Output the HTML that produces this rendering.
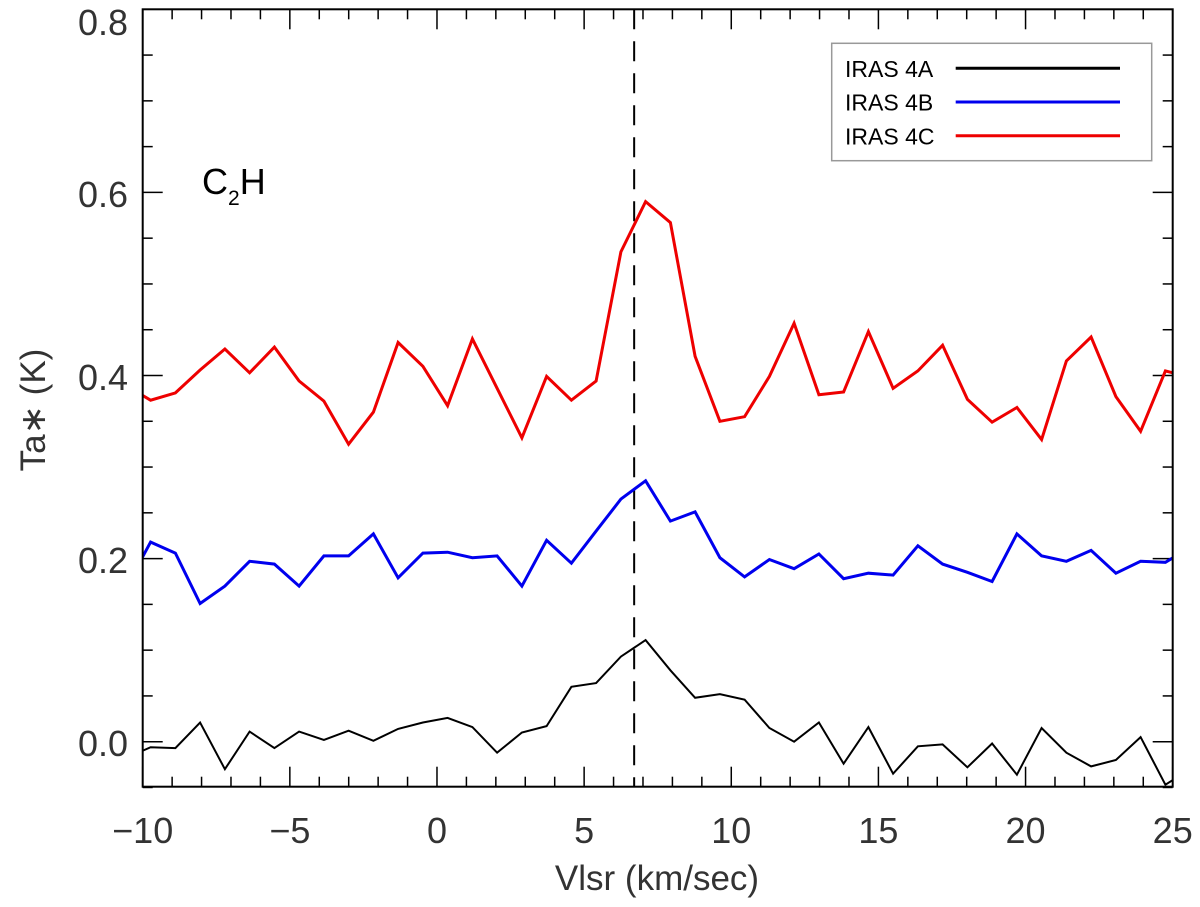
<!DOCTYPE html>
<html><head><meta charset="utf-8"><style>
html,body{margin:0;padding:0;background:#fff;}
svg{display:block;font-family:"Liberation Sans",sans-serif;}
</style></head><body>
<svg id="chart" width="1200" height="907" viewBox="0 0 1200 907" xmlns="http://www.w3.org/2000/svg">
<defs><clipPath id="plotclip"><rect x="142.7" y="9.3" width="1030" height="777.4"/></clipPath></defs>
<g id="ticks"></g>
<g id="series" clip-path="url(#plotclip)"></g>
<rect x="142.7" y="9.3" width="1030" height="777.4" fill="none" stroke="#000" stroke-width="2"/>
<text x="202" y="194" font-size="36" fill="#000">C<tspan font-size="21" dy="11">2</tspan><tspan dy="-11">H</tspan></text>
<text x="657" y="890" font-size="35" fill="#333" text-anchor="middle">Vlsr (km/sec)</text>
<text transform="translate(45,410) rotate(-90)" font-size="35" fill="#333" text-anchor="middle">Ta∗ (K)</text>
<g>
<rect x="831.7" y="43.3" width="320" height="117.4" fill="#fff" stroke="#999" stroke-width="1.5"/>
<g><text x="845" y="77" font-size="23" fill="#000">IRAS 4A</text><line x1="955.7" y1="68.3" x2="1120" y2="68.3" stroke="#000" stroke-width="3"/></g>
<g><text x="845" y="110.5" font-size="23" fill="#000">IRAS 4B</text><line x1="955.7" y1="102" x2="1120" y2="102" stroke="#0000ee" stroke-width="3"/></g>
<g><text x="845" y="144.5" font-size="23" fill="#000">IRAS 4C</text><line x1="955.7" y1="135.7" x2="1120" y2="135.7" stroke="#ee0000" stroke-width="3"/></g>
</g>
</svg>
<script>
const x0 = -10.571;
const dx = 0.841;
const xTickLabels = ["−10","−5","0","5","10","15","20","25"];
const xTickValues = [-10,-5,0,5,10,15,20,25];
const yTickLabels = ["0.0","0.2","0.4","0.6","0.8"];
const yTickValues = [0,0.2,0.4,0.6,0.8];
const markerVelocity = 6.7;
const iras4a = [-0.018,-0.006,-0.007,0.021,-0.030,0.011,-0.007,0.011,0.002,0.012,0.001,0.014,0.021,0.026,0.016,-0.012,0.010,0.017,0.060,0.064,0.093,0.111,0.078,0.048,0.052,0.046,0.015,0.000,0.021,-0.024,0.016,-0.035,-0.005,-0.003,-0.028,-0.002,-0.036,0.015,-0.012,-0.027,-0.020,0.005,-0.047,-0.030];
const iras4b = [0.168,0.218,0.206,0.151,0.170,0.197,0.194,0.170,0.203,0.203,0.227,0.179,0.206,0.207,0.201,0.203,0.170,0.220,0.195,0.230,0.265,0.285,0.241,0.251,0.201,0.180,0.199,0.189,0.205,0.178,0.184,0.182,0.214,0.194,0.185,0.175,0.227,0.203,0.197,0.209,0.184,0.197,0.196,0.212];
const iras4c = [0.389,0.373,0.381,0.406,0.429,0.403,0.431,0.394,0.372,0.325,0.360,0.436,0.410,0.367,0.440,0.386,0.332,0.399,0.373,0.394,0.535,0.590,0.567,0.421,0.350,0.355,0.399,0.457,0.379,0.382,0.448,0.386,0.405,0.433,0.374,0.349,0.365,0.330,0.416,0.442,0.377,0.339,0.405,0.398];

const NS = "http://www.w3.org/2000/svg";
const X = v => 142.7 + (v + 10) * (1030 / 35);
const Y = v => 741.7 - v * 915.5;
function mk(tag, attrs, parent){ const e=document.createElementNS(NS,tag); for(const k in attrs) e.setAttribute(k,attrs[k]); parent.appendChild(e); return e; }
const ticks = document.getElementById('ticks');
const svg = document.getElementById('chart');
for (let v=-10; v<=25; v++){
  const major = v%5===0, L = major?20:10;
  const b = mk('line',{x1:X(v),x2:X(v),y1:786.7,y2:786.7-L,stroke:'#000','stroke-width':1.5},ticks);
  
  
  const t = mk('line',{x1:X(v),x2:X(v),y1:9.3,y2:9.3+L,stroke:'#000','stroke-width':1.5},ticks);
  
  
}
xTickValues.forEach((v,i)=>{
  const t = mk('text',{x:X(v),y:843,'font-size':36,'text-anchor':'middle',fill:'#333'},svg);
  t.textContent = xTickLabels[i];
  
  
});
for (let k=-1; k<=16; k++){
  const v = k*0.05; const major = k%4===0, L = major?20:10;
  const l = mk('line',{x1:142.7,x2:142.7+L,y1:Y(v),y2:Y(v),stroke:'#000','stroke-width':1.5},ticks);
  
  
  const r = mk('line',{x1:1172.7,x2:1172.7-L,y1:Y(v),y2:Y(v),stroke:'#000','stroke-width':1.5},ticks);
  
  
}
yTickValues.forEach((v,i)=>{
  const yy = Math.max(Y(v)+14.5, 35);
  const t = mk('text',{x:128,y:yy,'font-size':36,'text-anchor':'end',fill:'#333'},svg);
  t.textContent = yTickLabels[i];
  
  
});
const series = document.getElementById('series');
const dash = mk('line',{x1:X(markerVelocity),x2:X(markerVelocity),y1:9.3,y2:786.7,stroke:'#000','stroke-width':2,'stroke-dasharray':'20,12'},series);


function drawLine(arr,color,name){
  const pts = arr.map((v,i)=>X(x0+i*dx).toFixed(1)+','+Y(v).toFixed(1)).join(' ');
  const p = mk('polyline',{points:pts,fill:'none',stroke:color,'stroke-width':name==='iras-4a-line'?2:3,'stroke-linejoin':'miter'},series);
  
  
}
drawLine(iras4a,'#000','iras-4a-line');
drawLine(iras4b,'#0000ee','iras-4b-line');
drawLine(iras4c,'#ee0000','iras-4c-line');
</script>
</body></html>
